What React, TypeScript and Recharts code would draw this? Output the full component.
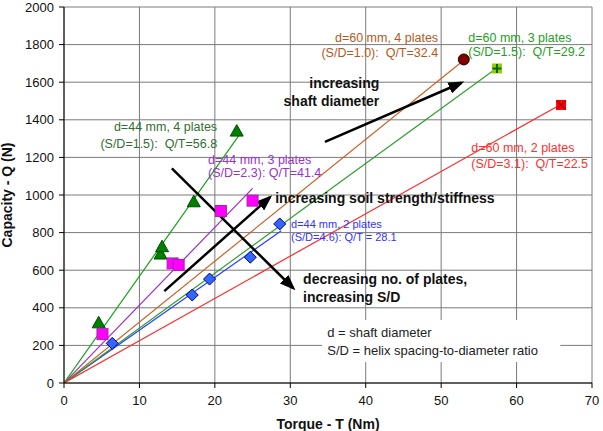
import {
  CartesianGrid,
  ComposedChart,
  Label,
  Line,
  ReferenceArea,
  ReferenceDot,
  ReferenceLine,
  Scatter,
  XAxis,
  YAxis,
} from "recharts";

const FONT = '"Liberation Sans", Arial, Helvetica, sans-serif';

// measured torque T (Nm) vs capacity Q (N)
const d44p4 = [
  { t: 4.6, q: 320 },
  { t: 12.8, q: 686 },
  { t: 13.0, q: 725 },
  { t: 17.2, q: 964 },
  { t: 22.9, q: 1340 },
];
const d44p3 = [
  { t: 5.1, q: 260 },
  { t: 14.4, q: 636 },
  { t: 15.2, q: 628 },
  { t: 20.8, q: 915 },
  { t: 25.0, q: 970 },
];
const d44p2 = [
  { t: 6.4, q: 211 },
  { t: 17.0, q: 468 },
  { t: 19.3, q: 553 },
  { t: 24.7, q: 669 },
  { t: 28.6, q: 846 },
];
const d60p4 = [{ t: 53.0, q: 1721 }];
const d60p3 = [{ t: 57.4, q: 1673 }];
const d60p2 = [{ t: 65.9, q: 1479 }];

// Q/T ratio of each pile and how far its fitted line runs
const fitNames = ["d44p4", "d44p3", "d44p2", "d60p4", "d60p3", "d60p2"];
const fitSlopes = [56.8, 41.4, 28.1, 32.4, 29.2, 22.5];
const fitEnds = [23.5, 25.0, 28.8, 53.0, 57.3, 65.8];
const fitColors = ["#18a018", "#9a2fc0", "#2a3cff", "#c8622a", "#2e9e2e", "#ff2a2a"];

const xTicks = [0, 10, 20, 30, 40, 50, 60, 70];
const yTicks = [0, 200, 400, 600, 800, 1000, 1200, 1400, 1600, 1800, 2000];

type Note = {
  t: number;
  q: number;
  text: string;
  color: string;
  size: number;
  bold?: boolean;
  align?: "start" | "end";
};

const notes: Note[] = [
  { t: 20.3, q: 1362, text: "d=44 mm, 4 plates", color: "#2f6f2f", size: 12.5, align: "end" },
  { t: 20.3, q: 1271, text: "(S/D=1.5): \u00a0Q/T=56.8", color: "#2f6f2f", size: 12.5, align: "end" },
  { t: 19.1, q: 1191, text: "d=44 mm, 3 plates", color: "#9933cc", size: 12.5 },
  { t: 19.1, q: 1117, text: "(S/D=2.3): Q/T=41.4", color: "#9933cc", size: 12.5 },
  { t: 49.6, q: 1840, text: "d=60 mm, 4 plates", color: "#b05a22", size: 12.5, align: "end" },
  { t: 49.6, q: 1755, text: "(S/D=1.0): \u00a0Q/T=32.4", color: "#b05a22", size: 12.5, align: "end" },
  { t: 53.6, q: 1840, text: "d=60 mm, 3 plates", color: "#23a023", size: 12.5 },
  { t: 53.6, q: 1761, text: "(S/D=1.5): \u00a0Q/T=29.2", color: "#23a023", size: 12.5 },
  { t: 54.0, q: 1250, text: "d=60 mm, 2 plates", color: "#ff3030", size: 12.5 },
  { t: 54.0, q: 1165, text: "(S/D=3.1): \u00a0Q/T=22.5", color: "#ff3030", size: 12.5 },
  { t: 30.1, q: 846, text: "d=44 mm, 2 plates", color: "#3333ff", size: 11 },
  { t: 30.1, q: 777, text: "(S/D=4.6): Q/T = 28.1", color: "#3333ff", size: 11 },
  { t: 41.8, q: 1596, text: "increasing", color: "#111", size: 14, bold: true, align: "end" },
  { t: 41.8, q: 1500, text: "shaft diameter", color: "#111", size: 14, bold: true, align: "end" },
  { t: 28.0, q: 984, text: "increasing soil strength/stiffness", color: "#111", size: 14, bold: true },
  { t: 31.7, q: 553, text: "decreasing no. of plates,", color: "#111", size: 14, bold: true },
  { t: 31.7, q: 457, text: "increasing S/D", color: "#111", size: 14, bold: true },
  { t: 34.9, q: 271, text: "d = shaft diameter", color: "#222", size: 13 },
  { t: 34.9, q: 176, text: "S/D = helix spacing-to-diameter ratio", color: "#222", size: 13 },
];

const arrows = [
  { from: { t: 34.6, q: 1283 }, to: { t: 52.7, q: 1597 } },
  { from: { t: 13.3, q: 489 }, to: { t: 27.3, q: 988 } },
  { from: { t: 14.3, q: 1142 }, to: { t: 30.4, q: 504 } },
];

type Pt = { cx?: number; cy?: number };

const Triangle = ({ cx = 0, cy = 0 }: Pt) => (
  <polygon
    points={`${cx},${cy - 6.5} ${cx + 6.5},${cy + 5} ${cx - 6.5},${cy + 5}`}
    fill="#008000"
    stroke="#004d00"
    strokeWidth={1}
  />
);

const MagentaSquare = ({ cx = 0, cy = 0 }: Pt) => (
  <rect x={cx - 5.5} y={cy - 5.5} width={11} height={11} fill="#ff00ff" stroke="#aa22aa" strokeWidth={1} />
);

const Diamond = ({ cx = 0, cy = 0 }: Pt) => (
  <polygon
    points={`${cx},${cy - 6} ${cx + 6},${cy} ${cx},${cy + 6} ${cx - 6},${cy}`}
    fill="#3366ff"
    stroke="#000080"
    strokeWidth={1}
  />
);

const Circle = ({ cx = 0, cy = 0 }: Pt) => (
  <circle cx={cx} cy={cy} r={5.5} fill="#800000" stroke="#200000" strokeWidth={1} />
);

const PlusSquare = ({ cx = 0, cy = 0 }: Pt) => (
  <g>
    <rect x={cx - 5} y={cy - 5} width={10} height={10} fill="#99cc00" />
    <path d={`M${cx - 4.5},${cy} H${cx + 4.5} M${cx},${cy - 4.5} V${cy + 4.5}`} stroke="#006600" strokeWidth={2} />
  </g>
);

const CrossSquare = ({ cx = 0, cy = 0 }: Pt) => (
  <g>
    <rect x={cx - 5} y={cy - 5} width={10} height={10} fill="#ff0000" />
    <path
      d={`M${cx - 4.5},${cy - 4.5} L${cx + 4.5},${cy + 4.5} M${cx + 4.5},${cy - 4.5} L${cx - 4.5},${cy + 4.5}`}
      stroke="#b00000"
      strokeWidth={1.5}
    />
  </g>
);

const renderYTitle = (props: any) => {
  const vb = props.viewBox || { x: 6, y: 7, height: 376 };
  const x = vb.x + 6;
  const y = vb.y + vb.height / 2;
  return (
    <text
      x={x}
      y={y}
      transform={`rotate(-90, ${x}, ${y})`}
      textAnchor="middle"
      fontFamily={FONT}
      fontSize={14}
      fontWeight="bold"
      fill="#111"
    >
      Capacity - Q (N)
    </text>
  );
};

export default function App() {
  return (
    <div style={{ position: "fixed", left: 0, top: 0, background: "#fff" }}>
      <svg width={0} height={0} style={{ position: "absolute" }}>
        <defs>
          <marker
            id="arrowHead"
            markerUnits="userSpaceOnUse"
            markerWidth={16}
            markerHeight={12}
            refX={13}
            refY={6}
            orient="auto"
          >
            <path d="M0,0 L16,6 L0,12 z" fill="#000" />
          </marker>
        </defs>
      </svg>
      <ComposedChart
        width={603}
        height={431}
        margin={{ top: 7, right: 11, bottom: 0, left: 6 }}
        style={{ fontFamily: FONT }}
      >
        <CartesianGrid stroke="#7a7a7a" strokeWidth={1} />
        <XAxis
          type="number"
          dataKey="t"
          domain={[0, 70]}
          ticks={xTicks}
          interval={0}
          height={48}
          allowDataOverflow
          stroke="#000"
          tickSize={5}
          tickMargin={8}
          tick={{ fill: "#111", fontSize: 13, fontFamily: FONT }}
        >
          <Label
            value="Torque - T (Nm)"
            position="insideBottom"
            offset={2}
            fill="#111"
            fontSize={14}
            fontWeight="bold"
            fontFamily={FONT}
          />
        </XAxis>
        <YAxis
          type="number"
          dataKey="q"
          domain={[0, 2000]}
          ticks={yTicks}
          interval={0}
          width={58}
          allowDataOverflow
          stroke="#000"
          tickSize={5}
          tickMargin={5}
          tick={{ fill: "#111", fontSize: 13, fontFamily: FONT }}
        >
          <Label content={renderYTitle} />
        </YAxis>

        <ReferenceArea x1={34.2} x2={65.8} y1={112} y2={335} fill="#fff" fillOpacity={1} stroke="none" />

        {fitNames.map((name, i) => (
          <Line
            key={name}
            data={[
              { t: 0, q: 0 },
              { t: fitEnds[i], q: fitSlopes[i] * fitEnds[i] },
            ]}
            dataKey="q"
            type="linear"
            stroke={fitColors[i]}
            strokeWidth={1.2}
            dot={false}
            activeDot={false}
            isAnimationActive={false}
          />
        ))}

        <Scatter data={d44p4} shape={Triangle} isAnimationActive={false} />
        <Scatter data={d44p3} shape={MagentaSquare} isAnimationActive={false} />
        <Scatter data={d44p2} shape={Diamond} isAnimationActive={false} />
        <Scatter data={d60p4} shape={Circle} isAnimationActive={false} />
        <Scatter data={d60p3} shape={PlusSquare} isAnimationActive={false} />
        <Scatter data={d60p2} shape={CrossSquare} isAnimationActive={false} />

        {arrows.map((a, i) => (
          <ReferenceLine
            key={`arrow-${i}`}
            segment={[
              { x: a.from.t, y: a.from.q },
              { x: a.to.t, y: a.to.q },
            ]}
            stroke="#000"
            strokeWidth={2.5}
            markerEnd="url(#arrowHead)"
          />
        ))}

        {notes.map((n, i) => (
          <ReferenceDot
            key={`note-${i}`}
            x={n.t}
            y={n.q}
            r={0}
            stroke="none"
            fill="none"
            label={{
              value: n.text,
              position: n.align === "end" ? "left" : "right",
              offset: 0,
              fill: n.color,
              fontSize: n.size,
              fontWeight: n.bold ? "bold" : "normal",
              fontFamily: FONT,
            }}
          />
        ))}
      </ComposedChart>
    </div>
  );
}
